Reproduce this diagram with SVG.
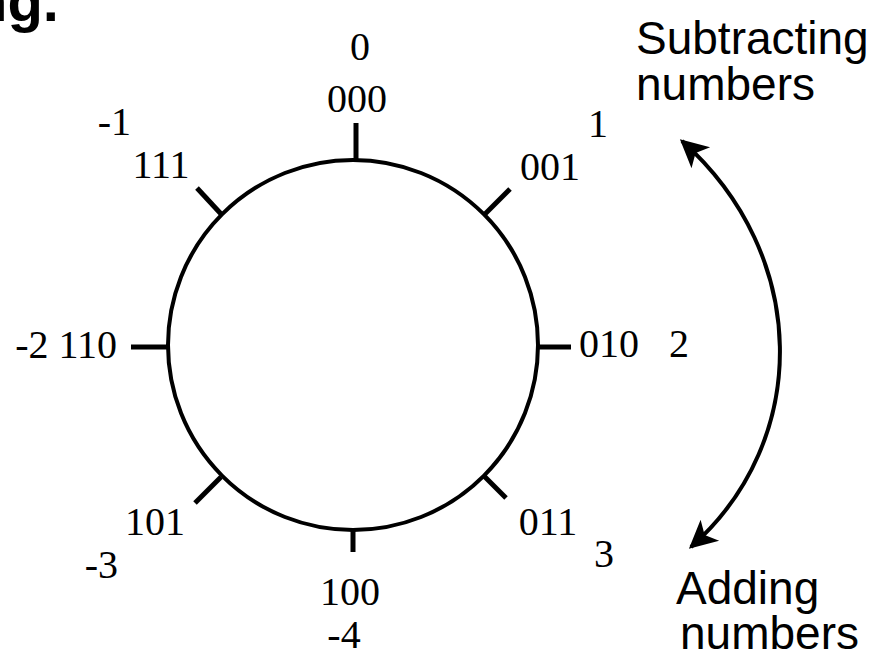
<svg xmlns="http://www.w3.org/2000/svg" width="873" height="656" viewBox="0 0 873 656">
<defs>
<style>
.num{font-family:"Liberation Serif","Times New Roman",serif;font-size:40px;fill:#000}
.lbl{font-family:"Liberation Sans",Arial,sans-serif;font-size:46px;fill:#000}
.tick{stroke:#000;stroke-width:5;fill:none}
</style>
<marker id="ah" viewBox="0 0 10 10" refX="9" refY="5" markerWidth="8" markerHeight="7" markerUnits="strokeWidth" orient="auto-start-reverse">
<path d="M0,0 L10,5 L0,10 L2.5,5 Z" fill="#000"/>
</marker>
</defs>
<rect width="873" height="656" fill="#fff"/>
<text x="59" y="21" text-anchor="end" style="font-family:'Liberation Sans',Arial,sans-serif;font-weight:bold;font-size:58px">ng.</text>
<g id="wheel">
<circle cx="353" cy="345" r="185" fill="none" stroke="#000" stroke-width="4"/>
</g>
<g id="p000"><line class="tick" x1="356" y1="123" x2="356" y2="161" stroke-width="7"/><text class="num" x="360" y="60" text-anchor="middle">0</text><text class="num" x="357" y="112" text-anchor="middle">000</text></g>
<g id="p001"><line class="tick" x1="485" y1="214" x2="510" y2="189"/><text class="num" x="598" y="137" text-anchor="middle">1</text><text class="num" x="550" y="180" text-anchor="middle">001</text></g>
<g id="p010"><line class="tick" x1="538" y1="347" x2="571" y2="347"/><text class="num" x="579" y="357">010</text><text class="num" x="669" y="357">2</text></g>
<g id="p011"><line class="tick" x1="484" y1="476" x2="506" y2="498"/><text class="num" x="548" y="535" text-anchor="middle">011</text><text class="num" x="604" y="567" text-anchor="middle">3</text></g>
<g id="p100"><line class="tick" x1="353" y1="529" x2="353" y2="552" stroke-width="6"/><text class="num" x="350" y="605" text-anchor="middle">100</text><text class="num" x="344" y="648" text-anchor="middle">-4</text></g>
<g id="p101"><line class="tick" x1="221" y1="477" x2="195" y2="503"/><text class="num" x="155" y="535" text-anchor="middle">101</text><text class="num" x="118" y="578" text-anchor="end">-3</text></g>
<g id="p110"><line class="tick" x1="168" y1="347" x2="131" y2="347"/><text class="num" x="117" y="358" text-anchor="end">-2 110</text></g>
<g id="p111"><line class="tick" x1="222" y1="215" x2="197" y2="188"/><text class="num" x="131" y="135" text-anchor="end">-1</text><text class="num" x="161" y="178" text-anchor="middle">111</text></g>
<g id="connectors">
<path d="M682,141 C810,255 812,440 691,547" fill="none" stroke="#000" stroke-width="4" marker-start="url(#ah)" marker-end="url(#ah)"/>
</g>
<g id="sub"><text class="lbl" x="636" y="54">Subtracting</text><text class="lbl" x="636" y="100">numbers</text></g>
<g id="add"><text class="lbl" x="676" y="604">Adding</text><text class="lbl" x="680" y="649">numbers</text></g>
</svg>
